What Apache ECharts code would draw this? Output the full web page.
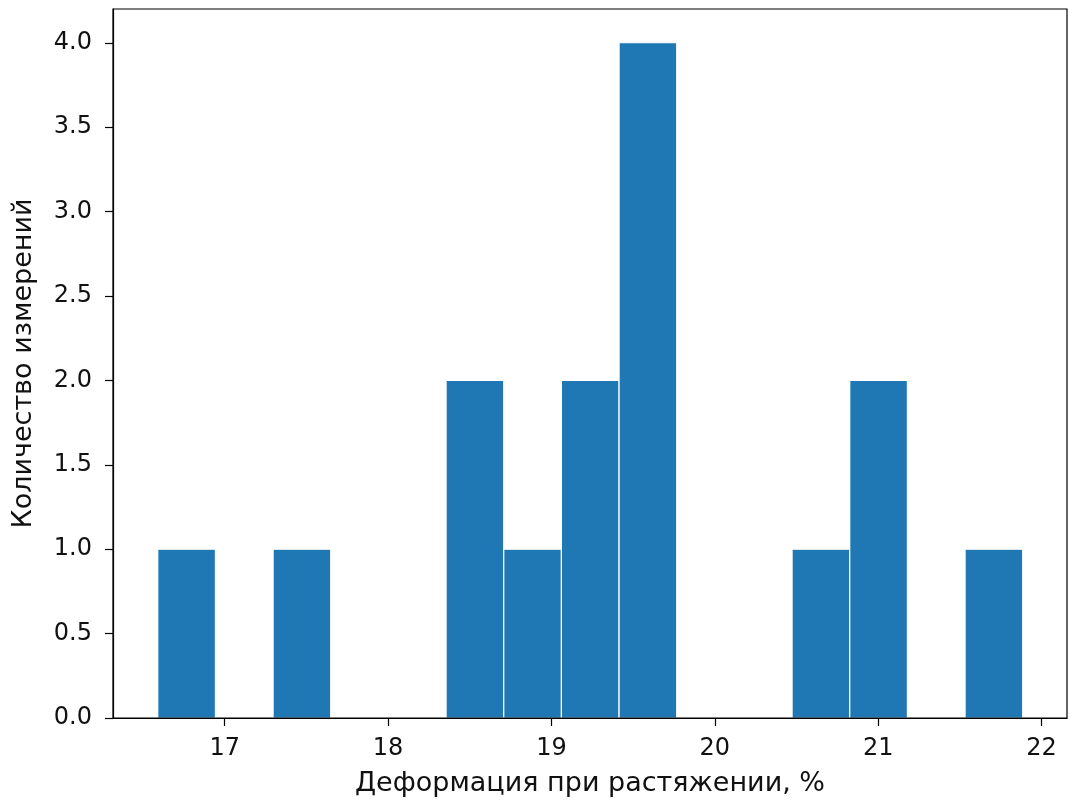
<!DOCTYPE html>
<html>
<head>
<meta charset="utf-8">
<script src="https://cdn.jsdelivr.net/npm/echarts@6/dist/echarts.min.js"></script>
<style>
html,body{margin:0;padding:0;background:#fff;}
#chart{width:1070px;height:807px;}
</style>
</head>
<body>
<div id="chart"></div>
<script>
// Histogram bin edges (%)
const binEdges = [16.59, 16.943, 17.296, 17.649, 18.002, 18.355, 18.708, 19.061, 19.414, 19.767, 20.12, 20.473, 20.826, 21.179, 21.532, 21.885];
// Counts per bin
const counts = [1, 0, 1, 0, 0, 2, 1, 2, 4, 0, 0, 1, 2, 0, 1];
const xTicks = [17, 18, 19, 20, 21, 22];
const yTicks = [0, 0.5, 1.0, 1.5, 2.0, 2.5, 3.0, 3.5, 4.0];
const xTitle = 'Деформация при растяжении, %';
const yTitle = 'Количество измерений';

const data = counts.map((c, i) => [binEdges[i], binEdges[i + 1], c]);

const font = 'DejaVu Sans';
const chart = echarts.init(document.getElementById('chart'), null, {renderer: 'canvas'});
chart.setOption({
  animation: false,
  backgroundColor: '#fff',
  grid: {left: 113, top: 9, right: 3, bottom: 89, show: true, borderColor: '#000', borderWidth: 1.2, backgroundColor: 'transparent', z: 10},
  xAxis: {
    type: 'value', min: 16.316, max: 22.156, z: 10,
    name: xTitle, nameLocation: 'middle', nameGap: 52,
    nameTextStyle: {fontFamily: font, fontSize: 27, color: '#111'},
    axisLine: {show: true, onZero: false, lineStyle: {color: '#000', width: 1.2}},
    axisTick: {show: true, length: 8, customValues: xTicks, lineStyle: {color: '#000', width: 1.2}},
    axisLabel: {customValues: xTicks, margin: 19, fontFamily: font, fontSize: 24, color: '#111'},
    splitLine: {show: false}
  },
  yAxis: {
    type: 'value', min: 0, max: 4.2, z: 10,
    name: yTitle, nameLocation: 'middle', nameGap: 76,
    nameTextStyle: {fontFamily: font, fontSize: 27, color: '#111'},
    axisLine: {show: true, onZero: false, lineStyle: {color: '#000', width: 1.2}},
    axisTick: {show: true, length: 8, customValues: yTicks, lineStyle: {color: '#000', width: 1.2}},
    axisLabel: {customValues: yTicks, margin: 21, fontFamily: font, fontSize: 24, color: '#111',
      formatter: v => Number(v).toFixed(1)},
    splitLine: {show: false}
  },
  series: [{
    type: 'custom',
    data: data,
    encode: {x: [0, 1], y: 2},
    renderItem: function (params, api) {
      const c = api.value(2);
      if (!c) return null;
      const p0 = api.coord([api.value(0), c]);
      const p1 = api.coord([api.value(1), 0]);
      return {
        type: 'rect',
        shape: {x: p0[0], y: p0[1], width: p1[0] - p0[0], height: p1[1] - p0[1]},
        style: {fill: '#1f77b4', stroke: '#fff', lineWidth: 1.2}
      };
    }
  }]
});
</script>
</body>
</html>
